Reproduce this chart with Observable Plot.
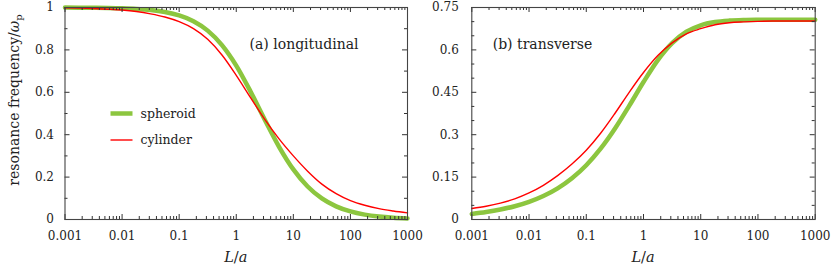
<!DOCTYPE html>
<html><head><meta charset="utf-8">
<script src="https://cdn.jsdelivr.net/npm/d3@7"></script>
<script src="https://cdn.jsdelivr.net/npm/@observablehq/plot@0.6"></script>
<style>
body{margin:0;background:#fff;}
#wrap{position:relative;width:831px;height:274px;}
#wrap svg{position:absolute;top:0;overflow:visible;}
</style></head><body><div id="wrap"></div>
<script>
// aspect ratio L/a
const ratio = [0.001, 0.00178, 0.00316, 0.00562, 0.01, 0.0178, 0.0316, 0.0562, 0.1, 0.178, 0.316, 0.562, 1, 1.78, 3.16, 5.62, 10, 17.8, 31.6, 56.2, 100, 178, 316, 562, 1000];
// (a) longitudinal
const spheroidLong = [0.9996, 0.9993, 0.9988, 0.9978, 0.9961, 0.9931, 0.9878, 0.9785, 0.9624, 0.9352, 0.8910, 0.8228, 0.7261, 0.6034, 0.4706, 0.3431, 0.2363, 0.1556, 0.0995, 0.0620, 0.0380, 0.0230, 0.0138, 0.0082, 0.0049];
const cylinderLong = [0.998, 0.997, 0.995, 0.992, 0.988, 0.981, 0.970, 0.955, 0.933, 0.900, 0.850, 0.776, 0.680, 0.575, 0.472, 0.380, 0.300, 0.228, 0.167, 0.122, 0.089, 0.067, 0.051, 0.040, 0.031];
// (b) transverse
const spheroidTrans = [0.0198, 0.0264, 0.0352, 0.0469, 0.0625, 0.0831, 0.1103, 0.1460, 0.1921, 0.2505, 0.3210, 0.4019, 0.4862, 0.5639, 0.6239, 0.6642, 0.6871, 0.6985, 0.7036, 0.7058, 0.7066, 0.7069, 0.7070, 0.7071, 0.7071];
const cylinderTrans = [0.039, 0.047, 0.058, 0.073, 0.094, 0.121, 0.155, 0.196, 0.245, 0.305, 0.375, 0.450, 0.520, 0.580, 0.625, 0.657, 0.675, 0.689, 0.696, 0.699, 0.701, 0.702, 0.702, 0.702, 0.702];

const seriesNames = ["spheroid", "cylinder"];
const seriesColors = ["#8cc63f", "#ff0000"];
const panelTitles = ["(a) longitudinal", "(b) transverse"];

const xTickValues = [0.001, 0.01, 0.1, 1, 10, 100, 1000];
const xTickLabels = ["0.001", "0.01", "0.1", "1", "10", "100", "1000"];
const yTicksA = [0, 0.2, 0.4, 0.6, 0.8, 1];
const yLabelsA = ["0", "0.2", "0.4", "0.6", "0.8", "1"];
const yTicksB = [0, 0.15, 0.3, 0.45, 0.6, 0.75];
const yLabelsB = ["0", "0.15", "0.3", "0.45", "0.6", "0.75"];

const xMinor = [];
xTickValues.slice(0, -1).forEach(d => { for (let k = 2; k <= 9; k++) xMinor.push(d * k); });
const yMinorA = d3.range(0, 11).map(i => i / 10).filter(v => !yTicksA.some(t => Math.abs(t - v) < 1e-9));
const yMinorB = d3.range(0, 16).map(i => i * 0.05).filter(v => !yTicksB.some(t => Math.abs(t - v) < 1e-9));

const FONT = "'DejaVu Serif', serif";
const INK = "#222";
const TICK = "#333";

function panel({left, width, ml, mr, ymax, yTicks, yLabels, yMinor, sph, cyl, title, titleX, legend, ylabel}) {
  const H = 274, mt = 7, mb = 55;
  const fh = H - mt - mb, fw = width - ml - mr;
  const sData = ratio.map((r, i) => ({r, v: sph[i]}));
  const cData = ratio.map((r, i) => ({r, v: cyl[i]}));
  const svg = Plot.plot({
    width, height: H, marginTop: mt, marginBottom: mb, marginLeft: ml, marginRight: mr,
    style: {fontFamily: FONT, fontSize: "12px", color: INK, background: "none", overflow: "visible"},
    x: {type: "log", domain: [0.001, 1000]},
    y: {domain: [0, ymax]},
    marks: [
      Plot.line(sData, {x: "r", y: "v", stroke: seriesColors[0], strokeWidth: 4.5, curve: "monotone-x"}),
      Plot.line(cData, {x: "r", y: "v", stroke: seriesColors[1], strokeWidth: 1.4, curve: "monotone-x"}),
      Plot.ruleX(xMinor, {stroke: TICK, insetTop: fh - 3}),
      Plot.ruleX(xMinor, {stroke: TICK, insetBottom: fh - 3}),
      Plot.ruleX(xTickValues, {stroke: TICK, insetTop: fh - 5}),
      Plot.ruleX(xTickValues, {stroke: TICK, insetBottom: fh - 5}),
      Plot.ruleY(yMinor, {stroke: TICK, insetRight: fw - 3}),
      Plot.ruleY(yMinor, {stroke: TICK, insetLeft: fw - 3}),
      Plot.ruleY(yTicks, {stroke: TICK, insetRight: fw - 5}),
      Plot.ruleY(yTicks, {stroke: TICK, insetLeft: fw - 5}),
      Plot.frame({stroke: "#444", strokeWidth: 1.1}),
      Plot.axisX(xTickValues, {tickSize: 0, tickPadding: 12, label: null, fontSize: 12,
        tickFormat: d => xTickLabels[xTickValues.indexOf(d)]}),
      Plot.axisY(yTicks, {tickSize: 0, tickPadding: ml > 60 ? 11 : 13, label: null, fontSize: 12,
        tickFormat: d => yLabels[yTicks.indexOf(d)]})
    ]
  });
  svg.style.left = left + "px";
  const s = d3.select(svg);
  // x axis label L/a
  const xl = s.append("text").attr("x", ml + fw / 2).attr("y", 262).attr("text-anchor", "middle")
    .attr("font-family", FONT).attr("font-size", 14.5).attr("fill", INK);
  xl.append("tspan").attr("font-style", "italic").text("L");
  xl.append("tspan").text("/");
  xl.append("tspan").attr("font-style", "italic").text("a");
  // panel title
  s.append("text").attr("x", titleX).attr("y", 48.5).attr("text-anchor", "start").attr("font-family", FONT).attr("font-size", 14)
    .attr("fill", INK).text(title);
  if (ylabel) {
    const t = s.append("text").attr("transform", "translate(18.5,100) rotate(-90)").attr("text-anchor", "middle")
      .attr("font-family", FONT).attr("font-size", 14).attr("fill", INK);
    t.append("tspan").text("resonance frequency/");
    t.append("tspan").attr("font-style", "italic").text("ω");
    t.append("tspan").attr("font-size", 10).attr("dy", 3).text("p");
  }
  if (legend) {
    const rows = [{y: 113.5, w: 4.5}, {y: 140, w: 1.4}];
    rows.forEach((row, i) => {
      s.append("line").attr("x1", 110.5).attr("x2", 132.5).attr("y1", row.y).attr("y2", row.y)
        .attr("stroke", seriesColors[i]).attr("stroke-width", row.w);
      s.append("text").attr("x", 140.5).attr("y", row.y + 4.3).attr("text-anchor", "start").attr("font-family", FONT).attr("font-size", 12.5)
        .attr("fill", INK).text(seriesNames[i]);
    });
  }
  return svg;
}

const wrap = document.getElementById("wrap");
wrap.appendChild(panel({left: 0, width: 415, ml: 64.5, mr: 8, ymax: 1, yTicks: yTicksA, yLabels: yLabelsA, yMinor: yMinorA,
  sph: spheroidLong, cyl: cylinderLong, title: panelTitles[0], titleX: 249.5, legend: true, ylabel: true}));
wrap.appendChild(panel({left: 415, width: 416, ml: 56.3, mr: 16.3, ymax: 0.75, yTicks: yTicksB, yLabels: yLabelsB, yMinor: yMinorB,
  sph: spheroidTrans, cyl: cylinderTrans, title: panelTitles[1], titleX: 77.7, legend: false, ylabel: false}));
</script></body></html>
